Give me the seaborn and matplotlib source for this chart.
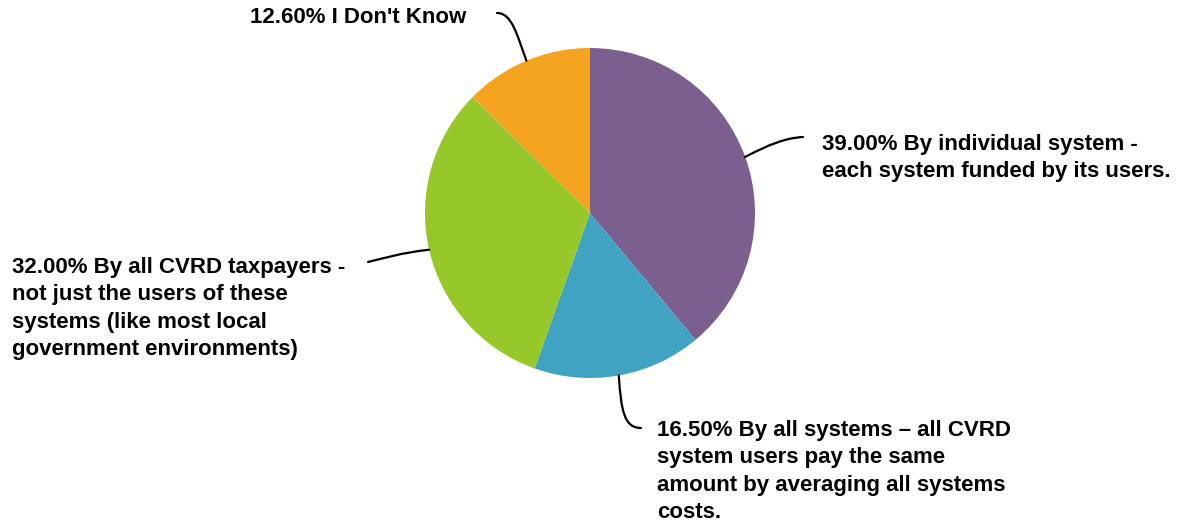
import numpy as np
import matplotlib
matplotlib.use("Agg")
import matplotlib.pyplot as plt
from matplotlib.path import Path
from matplotlib.patches import PathPatch
import seaborn as sns

# --- Data ---
labels = [
    "39.00% By individual system -\neach system funded by its users.",
    "16.50% By all systems \u2013 all CVRD\nsystem users pay the same\namount by averaging all systems\ncosts.",
    "32.00% By all CVRD taxpayers -\nnot just the users of these\nsystems (like most local\ngovernment environments)",
    "12.60% I Don't Know",
]
shares = [39.0, 16.5, 32.0, 12.6]
colors = ["#7B5F8E", "#41A3C2", "#96C829", "#F4A41E"]

# label layout in pixel coordinates (text top-left, leader bends, leader end)
text_pos = [(822, 134), (657, 420), (12, 257), (250, 7)]
leader_c1 = [(768, 145), (621, 410), (400, 253), (517, 35)]
leader_c2 = [(785, 138), (624, 428), (385, 258), (512, 13)]
leader_end = [(803, 137), (641, 428), (368, 262), (497, 13)]

W, H = 1187, 531
CX, CY, R = 590, 213, 165

sns.set_theme(style="white")
plt.rcParams["font.family"] = ["Liberation Sans", "DejaVu Sans"]

fig = plt.figure(figsize=(W / 100, H / 100), dpi=100)
ax = fig.add_axes([0, 0, 1, 1])

# pie drawn in flipped axes: counterclock=True renders clockwise on screen
wedges, _ = ax.pie(shares, colors=colors, startangle=-90, counterclock=True,
                   center=(CX, CY), radius=R, frame=True,
                   wedgeprops=dict(linewidth=0))
ax.set_xlim(0, W)
ax.set_ylim(H, 0)
ax.set_aspect("equal")
ax.axis("off")

total = sum(shares)
cum = 0.0
for i, s in enumerate(shares):
    mid = 90 - (cum + s / 2) / total * 360
    cum += s
    sx = CX + R * np.cos(np.radians(mid))
    sy = CY - R * np.sin(np.radians(mid))
    path = Path([(sx, sy), leader_c1[i], leader_c2[i], leader_end[i]],
                [Path.MOVETO, Path.CURVE4, Path.CURVE4, Path.CURVE4])
    ax.add_patch(PathPatch(path, fill=False, edgecolor="black", lw=1.6,
                           capstyle="round"))
    ax.text(text_pos[i][0], text_pos[i][1], labels[i], ha="left", va="top",
            fontsize=16, fontweight="bold", color="black", linespacing=1.4)

fig.savefig("out.png", dpi=100)
